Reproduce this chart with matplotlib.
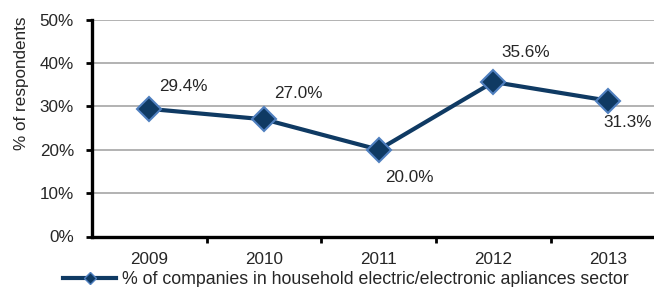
import matplotlib
matplotlib.use("Agg")
import matplotlib.pyplot as plt
from matplotlib.lines import Line2D
from matplotlib.ticker import FuncFormatter

# Data
years = ["2009", "2010", "2011", "2012", "2013"]
share = [29.4, 27.0, 20.0, 35.6, 31.3]
legend_label = "% of companies in household electric/electronic apliances sector"
# label offsets (pixels) relative to each point
label_offsets = [(34, 22), (34, 26), (31, -28), (32, 29), (20, -22)]

plt.rcParams["font.family"] = ["Liberation Sans", "DejaVu Sans"]
plt.rcParams["font.size"] = 12.3
text_color = "#262626"
line_color = "#0f3a63"
edge_color = "#4f7fbf"

fig = plt.figure(figsize=(6.54, 2.87), dpi=100)
W, H = 654, 287
left, right, top, bottom = 92, 654, 19.5, 236.5
ax = fig.add_axes([left / W, (H - bottom) / H, (right - left) / W, (bottom - top) / H])

ax.set_ylim(0, 50)
ax.set_xlim(-0.5, 4.4)
xs = list(range(len(years)))
ax.set_xticks(xs)
ax.set_xticklabels(years, color=text_color)
ax.set_xticks([i + 0.5 for i in range(len(years) - 1)], minor=True)
ax.tick_params(axis="x", which="major", length=0, pad=11)
ax.tick_params(axis="x", which="minor", length=4, width=2, direction="out", color="black")
ax.set_yticks(range(0, 51, 10))
ax.yaxis.set_major_formatter(FuncFormatter(lambda v, p: f"{v:.0f}%"))
ax.tick_params(axis="y", length=4, width=2, pad=9, labelcolor=text_color)
ax.grid(axis="y", color="#a6a6a6", linewidth=1.2)
ax.set_axisbelow(True)
for s in ["top", "right"]:
    ax.spines[s].set_visible(False)
for s in ["left", "bottom"]:
    ax.spines[s].set_linewidth(2.4)
    ax.spines[s].set_color("black")
ax.spines["bottom"].set_zorder(5)

ax.plot(xs, share, color=line_color, linewidth=3, marker="D", markersize=12,
        markerfacecolor=line_color, markeredgecolor=edge_color, markeredgewidth=1.5,
        zorder=4, clip_on=False)
for x, v, (dx, dy) in zip(xs, share, label_offsets):
    ax.annotate(f"{v:.1f}%", (x, v), xytext=(dx, dy), textcoords="offset pixels",
                ha="center", va="center", color=text_color)

fig.text(22 / W, 1 - 83 / H, "% of respondents", rotation=90, ha="center", va="center",
         color=text_color)

handle = Line2D([], [], color=line_color, linewidth=3, marker="D", markersize=6,
                markerfacecolor=line_color, markeredgecolor=edge_color, markeredgewidth=1)
fig.legend([handle], [legend_label], loc="center left", bbox_to_anchor=(63 / W, 7 / H),
           frameon=False, borderaxespad=0, borderpad=0, handlelength=3.0,
           handletextpad=0.3, labelcolor=text_color, fontsize=12.8)

fig.savefig("out.png", dpi=100)
